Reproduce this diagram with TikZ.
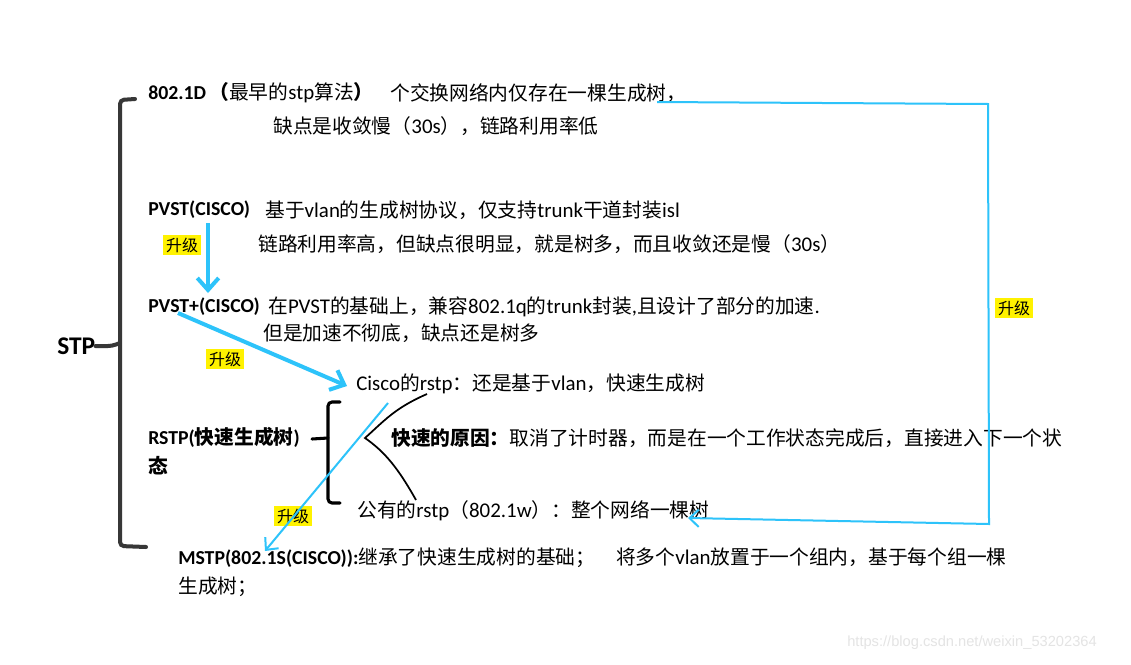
\documentclass[tikz,border=0pt]{standalone}
\usepackage{fontspec}
\setmainfont{Carlito}[Scale=1.06]
\newfontfamily\cjkfont{Noto Sans CJK SC}
\newfontfamily\wmfont{Liberation Sans}
\XeTeXinterchartokenstate=1
\newXeTeXintercharclass\cjkcls
\makeatletter
\count@="3000 \loop\XeTeXcharclass\count@=\cjkcls\ifnum\count@<"303F \advance\count@\@ne\repeat
\count@="4E00 \loop\XeTeXcharclass\count@=\cjkcls\ifnum\count@<"9FFF \advance\count@\@ne\repeat
\count@="FF00 \loop\XeTeXcharclass\count@=\cjkcls\ifnum\count@<"FFEF \advance\count@\@ne\repeat
\makeatother
\XeTeXinterchartoks 0 \cjkcls = {\cjkfont}
\XeTeXinterchartoks 4095 \cjkcls = {\cjkfont}
\XeTeXinterchartoks \cjkcls 0 = {\rmfamily}
\XeTeXinterchartoks \cjkcls 4095 = {\rmfamily}
\newcommand\latb{\bfseries\fontsize{14}{17}\selectfont}
\newcommand\cjkb{\fontsize{14.8}{17}\selectfont}
\usetikzlibrary{arrows.meta}
\definecolor{sky}{RGB}{45,195,250}
\definecolor{brk}{RGB}{55,55,55}
\definecolor{wmgray}{RGB}{228,228,228}
\begin{document}
\begin{tikzpicture}[x=0.75pt,y=-0.75pt,
  txt/.style={anchor=west,inner sep=0pt,font=\fontsize{14.8}{17}\selectfont},
  bt/.style={anchor=west,inner sep=0pt,font=\latb},
  hl/.style={fill=yellow,inner sep=2pt,font=\fontsize{12}{14}\selectfont},
  thickarrow/.style={draw=sky,line width=3pt,-{Straight Barb[length=9pt,width=16pt,line width=3pt]}},
  thinarrow/.style={draw=sky,line width=1.5pt,-{Straight Barb[length=7pt,width=13pt,line width=1.5pt]}},
  bigbrace/.style={draw=brk,line width=3pt,line cap=round,rounded corners=3pt},
  smallbrace/.style={draw=black,line width=2.3pt,line cap=round,rounded corners=3pt},
  treeline/.style={draw=black,line width=1.3pt}]
\useasboundingbox (0,0) rectangle (1131,664);
\fill[white] (0,0) rectangle (1131,664);

% texts
\node[txt] (n1a) at (148,93) {{\latb 802.1D\cjkfont\cjkb\,（}\cjkfont 最早的stp算法{\bfseries\cjkfont）}};
\node[txt] (n1b) at (390,93) {个交换网络内仅存在一棵生成树，};
\node[txt] (n1c) at (273,126) {缺点是收敛慢（30s），链路利用率低};
\node[bt]  (n2a) at (148,210) {PVST(CISCO)};
\node[txt] (n2b) at (265,210) {基于vlan的生成树协议，仅支持trunk干道封装isl};
\node[txt] (n2c) at (258,244) {链路利用率高，但缺点很明显，就是树多，而且收敛还是慢（30s）};
\node[bt]  (n3a) at (148,307) {PVST+(CISCO)};
\node[txt] (n3b) at (268,307) {在PVST的基础上，兼容802.1q的trunk封装,且设计了部分的加速.};
\node[txt] (n3c) at (263,333) {但是加速不彻底，缺点还是树多};
\node[anchor=west,inner sep=0pt,font=\fontsize{18}{22}\selectfont\bfseries] (stp) at (57,346) {STP};
\node[txt] (n4a) at (356,384) {Cisco的rstp：还是基于vlan，快速生成树};
\node[txt] (n5a) at (148,437) {\latb RSTP(\cjkb 快速生成树\latb)};
\node[txt] (n5b) at (148,466) {\bfseries 态};
\node[txt] (n5c) at (391,438) {\textbf{快速的原因：}\cjkfont 取消了计时器，而是在一个工作状态完成后，直接进入下一个状};
\node[txt] (n6a) at (357,511) {公有的rstp（802.1w）：整个网络一棵树};
\node[txt] (n7a) at (178,558) {{\latb MSTP(802.1S(CISCO)):}\cjkfont 继承了快速生成树的基础；\hspace{1em}\cjkfont 将多个vlan放置于一个组内，基于每个组一棵};
\node[txt] (n7b) at (178,587) {生成树；};

% highlighted labels
\node[hl] (up1) at (182,245) {升级};
\node[hl] (up2) at (225,359) {升级};
\node[hl] (up3) at (293,516) {升级};
\node[hl] (up4) at (1014,308) {升级};

% watermark
\node[anchor=west,inner sep=0pt,text=wmgray,font=\wmfont\fontsize{11}{13}\selectfont] (wm) at (847,643) {https://blog.csdn.net/weixin\_53202364};

% big brace
\draw[bigbrace] (135,99) -- (120,100) -- (120,546) -- (146,547);
\draw[bigbrace] (stp.east) -- (112,346) -- (120,343);

% small brace
\draw[smallbrace] (340,402) -- (328,402) -- (328,503) -- (340,503);
\draw[smallbrace] (312,439) -- (328,438);

% tree fork
\coordinate (fork) at (365,438);
\coordinate (tup) at (427,394);
\coordinate (tdn) at (416,500);
\draw[treeline] (tup) .. controls (395,408) and (385,420) .. (fork) .. controls (385,452) and (398,468) .. (tdn);

% arrows
\coordinate (a1s) at (208,223);
\coordinate (a1e) at (208,293);
\draw[thickarrow] (a1s) -- (a1e);
\coordinate (a2s) at (178,313);
\coordinate (a2e) at (347,386);
\draw[thickarrow] (a2s) -- (a2e);
\coordinate (a3s) at (388,403);
\coordinate (a3e) at (265,551);
\draw[thinarrow] (a3s) -- (a3e);
\coordinate (r1) at (657,102);
\coordinate (r2) at (988,104);
\coordinate (r3) at (989,524);
\coordinate (r4) at (688,518);
\draw[thinarrow] (r1) -- (r2) -- (r3) -- (r4);
\end{tikzpicture}
\end{document}
